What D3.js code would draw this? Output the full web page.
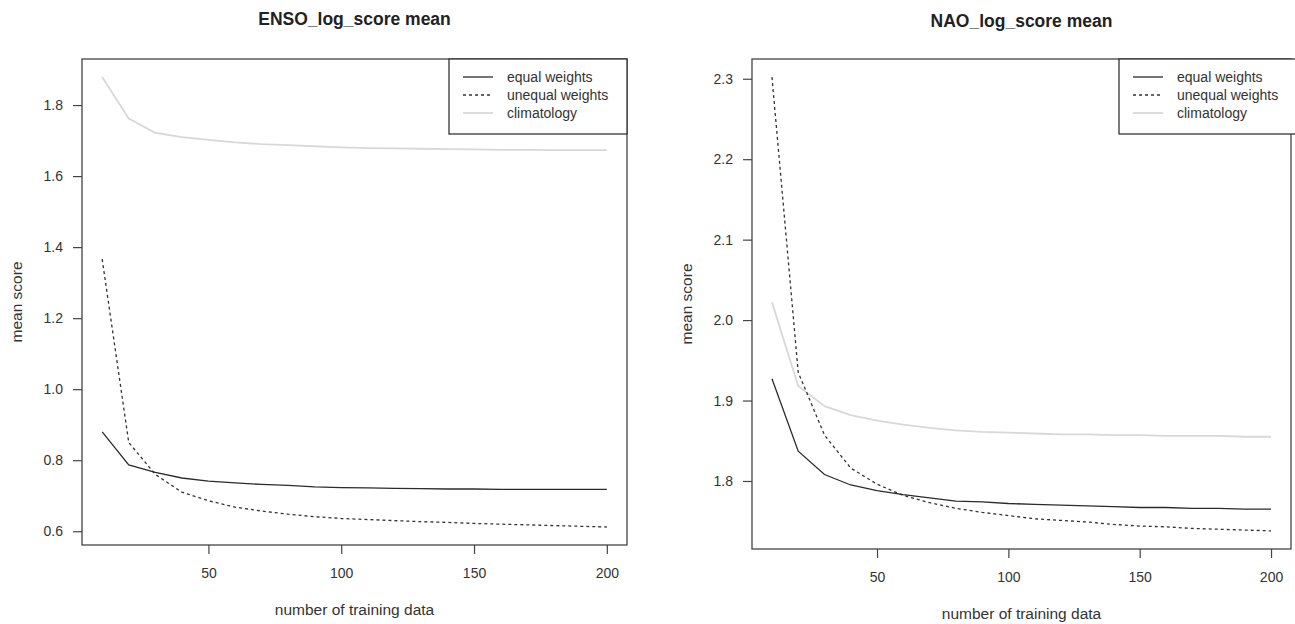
<!DOCTYPE html>
<html>
<head>
  <meta charset="utf-8">
  <title>log score mean</title>
  <script src="https://cdn.jsdelivr.net/npm/d3@7/dist/d3.min.js"></script>
  <style>
    body { margin: 0; background: #fff; }
    svg { display: block; font-family: "Liberation Sans", Arial, sans-serif; }
  </style>
</head>
<body>
  <svg width="1295" height="624"></svg>

  <script>
    // training sizes
    const trainSizes = [10, 20, 30, 40, 50, 60, 70, 80, 90, 100, 110, 120, 130, 140, 150, 160, 170, 180, 190, 200];

    // ENSO panel
    const ensoEqual   = [0.880, 0.787, 0.766, 0.750, 0.741, 0.736, 0.732, 0.729, 0.725, 0.723, 0.722, 0.721, 0.720, 0.719, 0.719, 0.718, 0.718, 0.718, 0.718, 0.718];
    const ensoUnequal = [1.366, 0.850, 0.760, 0.710, 0.686, 0.668, 0.657, 0.648, 0.641, 0.636, 0.633, 0.630, 0.627, 0.625, 0.622, 0.620, 0.618, 0.616, 0.614, 0.612];
    const ensoClim    = [1.879, 1.762, 1.722, 1.710, 1.702, 1.695, 1.690, 1.687, 1.684, 1.681, 1.679, 1.678, 1.677, 1.676, 1.675, 1.674, 1.674, 1.673, 1.673, 1.673];

    // NAO panel
    const naoEqual   = [1.927, 1.837, 1.808, 1.795, 1.788, 1.783, 1.779, 1.775, 1.774, 1.772, 1.771, 1.770, 1.769, 1.768, 1.767, 1.767, 1.766, 1.766, 1.765, 1.765];
    const naoUnequal = [2.302, 1.935, 1.857, 1.816, 1.796, 1.782, 1.773, 1.766, 1.761, 1.757, 1.753, 1.751, 1.749, 1.746, 1.744, 1.743, 1.741, 1.740, 1.739, 1.738];
    const naoClim    = [2.022, 1.918, 1.893, 1.882, 1.875, 1.870, 1.866, 1.863, 1.861, 1.860, 1.859, 1.858, 1.858, 1.857, 1.857, 1.856, 1.856, 1.856, 1.855, 1.855];

    const seriesNames = ["equal weights", "unequal weights", "climatology"];
    const xTicks = [50, 100, 150, 200];
    const ensoYTicks = [0.6, 0.8, 1.0, 1.2, 1.4, 1.6, 1.8];
    const naoYTicks = [1.8, 1.9, 2.0, 2.1, 2.2, 2.3];

    const styles = [
      { color: "#2b2b2b", dash: null, width: 1.3 },
      { color: "#333", dash: "3,3", width: 1.3 },
      { color: "#d8d8d8", dash: null, width: 1.8 }
    ];

    const svg = d3.select("svg");

    // R-style range with 4% padding
    function padExtent(ext) {
      const p = (ext[1] - ext[0]) * 0.04;
      return [ext[0] - p, ext[1] + p];
    }

    function styleAxis(a) {
      a.select(".domain").remove();
      a.selectAll("line").attr("stroke", "#444").attr("stroke-width", 1.2);
      a.selectAll("text").attr("fill", "#333")
        .style("font-size", "14px")
        .style("font-family", "Liberation Sans, Arial, sans-serif");
    }

    function drawPanel(p) {
      const all = p.series.flat();
      const x = d3.scaleLinear().domain(padExtent(d3.extent(trainSizes))).range([p.left, p.right]);
      const y = d3.scaleLinear().domain(padExtent(d3.extent(all))).range([p.bottom, p.top]);

      const g = svg.append("g");

      const line = d3.line()
        .x((d, i) => x(trainSizes[i]))
        .y(d => y(d));

      // climatology first so the dark lines sit on top
      [2, 1, 0].forEach(k => {
        g.append("path")
          .datum(p.series[k])
          .attr("fill", "none")
          .attr("stroke", styles[k].color)
          .attr("stroke-width", styles[k].width)
          .attr("stroke-dasharray", styles[k].dash)
          .attr("d", line);
      });

      // box
      g.append("rect")
        .attr("x", p.left).attr("y", p.top)
        .attr("width", p.right - p.left).attr("height", p.bottom - p.top)
        .attr("fill", "none").attr("stroke", "#444").attr("stroke-width", 1.3);

      g.append("g")
        .attr("transform", `translate(0,${p.bottom})`)
        .call(d3.axisBottom(x).tickValues(xTicks).tickSize(9).tickPadding(14).tickFormat(d3.format("d")))
        .call(styleAxis);

      g.append("g")
        .attr("transform", `translate(${p.left},0)`)
        .call(d3.axisLeft(y).tickValues(p.yTicks).tickSize(9).tickPadding(10).tickFormat(d3.format(".1f")))
        .call(styleAxis);

      const cx = (p.left + p.right) / 2;
      g.append("text")
        .attr("x", cx).attr("y", p.titleY)
        .attr("text-anchor", "middle")
        .style("font-size", "17.5px").style("font-weight", "bold").attr("fill", "#222")
        .text(p.title);

      g.append("text")
        .attr("x", cx).attr("y", p.bottom + 70)
        .attr("text-anchor", "middle")
        .style("font-size", "15.5px").attr("fill", "#333")
        .text("number of training data");

      g.append("text")
        .attr("transform", `translate(${p.left - 60},${(p.top + p.bottom) / 2}) rotate(-90)`)
        .attr("text-anchor", "middle")
        .style("font-size", "15.5px").attr("fill", "#333")
        .text("mean score");

      // legend
      const lg = g.append("g").attr("transform", `translate(${p.legendX},${p.top})`);
      lg.append("rect")
        .attr("width", p.legendW).attr("height", 75)
        .attr("fill", "#fff").attr("stroke", "#333").attr("stroke-width", 1.3);
      seriesNames.forEach((name, k) => {
        const ly = 18 + k * 18;
        lg.append("line")
          .attr("x1", 14).attr("x2", 44).attr("y1", ly).attr("y2", ly)
          .attr("stroke", styles[k].color)
          .attr("stroke-width", styles[k].width)
          .attr("stroke-dasharray", styles[k].dash);
        lg.append("text")
          .attr("x", 58).attr("y", ly + 5)
          .style("font-size", "14px").attr("fill", "#333")
          .text(name);
      });
    }

    drawPanel({
      title: "ENSO_log_score mean",
      series: [ensoEqual, ensoUnequal, ensoClim],
      yTicks: ensoYTicks,
      left: 82, right: 627, top: 59, bottom: 545, titleY: 25,
      legendX: 449, legendW: 178
    });

    drawPanel({
      title: "NAO_log_score mean",
      series: [naoEqual, naoUnequal, naoClim],
      yTicks: naoYTicks,
      left: 752, right: 1291, top: 59, bottom: 549, titleY: 27,
      legendX: 1119, legendW: 180
    });
  </script>
</body>
</html>
